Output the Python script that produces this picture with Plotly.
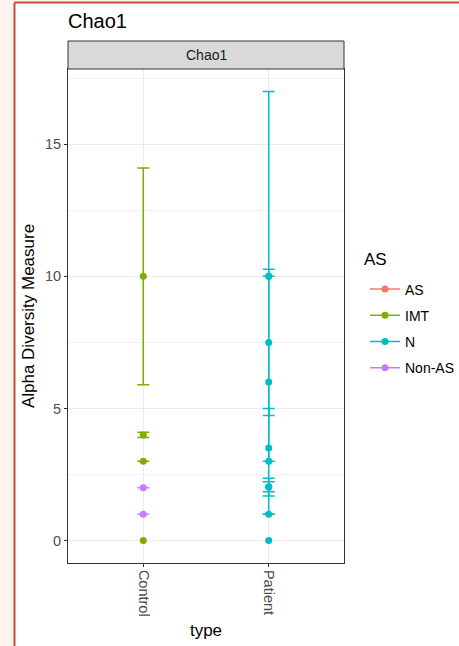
import plotly.graph_objects as go

# ---- data ----
types = ["Control", "Patient"]
legend_levels = ["AS", "IMT", "N", "Non-AS"]
colors = {"AS": "#F8766D", "IMT": "#7CAE00", "N": "#00BFC4", "Non-AS": "#C77CFF"}

control_imt_values = [10, 4, 3, 0]
control_imt_se = [4.1, 0.1, 0, None]

control_nonas_values = [2, 1]
control_nonas_se = [0, 0]

patient_n_values = [10, 10, 7.5, 6, 3.5, 3, 2.02, 2.04, 1, 0]
patient_n_se = [7, 0, 2.77, None, None, 2, 0.335, 0.19, 0, None]

series = [
    ("IMT", "Control", control_imt_values, control_imt_se),
    ("Non-AS", "Control", control_nonas_values, control_nonas_se),
    ("N", "Patient", patient_n_values, patient_n_se),
]

FONT = "Liberation Sans, Arial, sans-serif"

fig = go.Figure()

for name, xcat, vals, ses in series:
    with_se = [(v, s) for v, s in zip(vals, ses) if s is not None]
    without_se = [v for v, s in zip(vals, ses) if s is None]
    if with_se:
        fig.add_trace(go.Scatter(
            x=[xcat] * len(with_se), y=[v for v, _ in with_se], mode="markers",
            marker=dict(color=colors[name], size=7),
            error_y=dict(type="data", array=[s for _, s in with_se],
                         symmetric=True, color=colors[name], thickness=1.5, width=6),
            showlegend=False, name=name,
        ))
    if without_se:
        fig.add_trace(go.Scatter(
            x=[xcat] * len(without_se), y=without_se, mode="markers",
            marker=dict(color=colors[name], size=7),
            showlegend=False, name=name,
        ))

# legend keys (line + point, as in the reference)
for lv in legend_levels:
    fig.add_trace(go.Scatter(
        x=[None], y=[None], mode="lines+markers", name=lv,
        line=dict(color=colors[lv], width=1.5),
        marker=dict(color=colors[lv], size=7),
        legendgroup=lv, showlegend=True,
    ))

W, H = 459, 646
L, R, T, B = 68, 459 - 344, 41, 646 - 563
pw, ph = W - L - R, H - T - B
panel_top = (563 - 69) / ph

def px_x(px):
    return (px - L) / pw

def px_y(py):
    return (563 - py) / ph

fig.update_layout(
    width=W, height=H,
    margin=dict(l=L, r=R, t=T, b=B, pad=0, autoexpand=False),
    paper_bgcolor="#fdf4ef",
    plot_bgcolor="white",
    font=dict(family=FONT, color="#000000"),
    title=dict(text="Chao1", x=0, xref="paper", xanchor="left",
               y=1 - 21 / H, yref="container", yanchor="middle",
               font=dict(size=20, family=FONT, color="#000000")),
    xaxis=dict(type="category", categoryorder="array", categoryarray=types,
               range=[-0.6, 1.6], tickangle=90,
               showgrid=True, gridcolor="#ebebeb", gridwidth=1,
               showline=True, mirror=True, linecolor="#333333", linewidth=1,
               ticks="outside", ticklen=3, tickcolor="#333333",
               tickfont=dict(size=14.5, color="#4d4d4d", family=FONT),
               title=dict(text="type", font=dict(size=17, family=FONT, color="#000000"), standoff=8),
               zeroline=False),
    yaxis=dict(domain=[0, panel_top], range=[-0.85, 17.85],
               tickmode="array", tickvals=[0, 5, 10, 15], ticktext=["0", "5", "10", "15"],
               showgrid=True, gridcolor="#ebebeb", gridwidth=1,
               minor=dict(tickvals=[2.5, 7.5, 12.5, 17.5], showgrid=True,
                          gridcolor="#f3f3f3", gridwidth=0.6),
               showline=True, mirror=True, linecolor="#333333", linewidth=1,
               ticks="outside", ticklen=3, tickcolor="#333333",
               tickfont=dict(size=14.5, color="#4d4d4d", family=FONT),
               title=dict(text="Alpha Diversity Measure",
                          font=dict(size=17, family=FONT, color="#000000"), standoff=6),
               zeroline=False),
    legend=dict(x=px_x(365), y=px_y(273.5), xanchor="left", yanchor="top",
                xref="paper", yref="paper",
                font=dict(size=14, family=FONT, color="#000000"),
                tracegroupgap=5, bgcolor="rgba(0,0,0,0)", itemwidth=30),
    shapes=[
        # white card behind the chart
        dict(type="rect", xref="paper", yref="paper",
             x0=px_x(14.5), x1=px_x(700), y0=px_y(900), y1=px_y(2.5),
             line=dict(width=0), fillcolor="white", layer="below"),
        # red frame: top and left edges
        dict(type="line", xref="paper", yref="paper",
             x0=px_x(14.5), x1=px_x(700), y0=px_y(2.5), y1=px_y(2.5),
             line=dict(color="#c44e3a", width=2), layer="below"),
        dict(type="line", xref="paper", yref="paper",
             x0=px_x(14.5), x1=px_x(14.5), y0=px_y(900), y1=px_y(2.5),
             line=dict(color="#c44e3a", width=2), layer="below"),
        # facet strip
        dict(type="rect", xref="paper", yref="paper",
             x0=0, x1=1, y0=panel_top, y1=px_y(41),
             line=dict(color="#333333", width=1), fillcolor="#d9d9d9", layer="above"),
    ],
    annotations=[
        dict(text="Chao1", xref="paper", yref="paper", x=0.5, y=(panel_top + px_y(41)) / 2,
             xanchor="center", yanchor="middle", showarrow=False,
             font=dict(size=14, family=FONT, color="#1a1a1a")),
        # legend title
        dict(text="AS", xref="paper", yref="paper", x=px_x(362), y=px_y(259),
             xanchor="left", yanchor="middle", showarrow=False,
             font=dict(size=17, family=FONT, color="#000000")),
    ],
)

fig.write_html("out.html")
